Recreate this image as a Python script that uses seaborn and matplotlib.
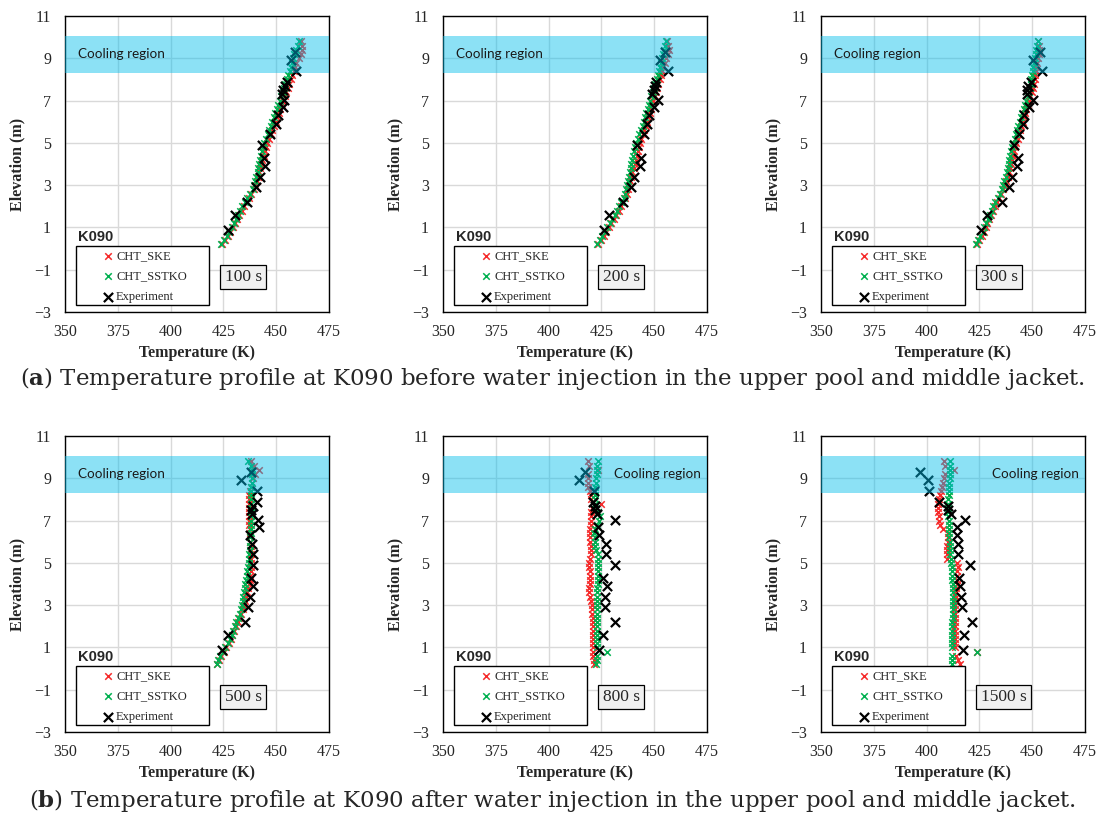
import matplotlib
matplotlib.use("Agg")
import seaborn as sns
from matplotlib import pyplot as plt
from matplotlib.ticker import MultipleLocator
from matplotlib.patches import Rectangle

# Elevations of the simulation nodes (m)
Z_SIM = [0.2, 0.4, 0.6, 0.8, 1.0, 1.2, 1.4, 1.6, 1.8, 2.0,
         2.2, 2.4, 2.6, 2.8, 3.0, 3.2, 3.4, 3.6, 3.8, 4.0,
         4.2, 4.4, 4.6, 4.8, 5.0, 5.2, 5.4, 5.6, 5.8, 6.0,
         6.2, 6.4, 6.6, 6.8, 7.0, 7.2, 7.4, 7.6, 7.8, 8.0,
         8.2, 8.4, 8.6, 8.8, 9.0, 9.2, 9.4, 9.6, 9.8]

# Elevations of the thermocouples (m)
Z_EXP = [0.9, 1.6, 2.2, 2.9, 3.4, 3.9, 4.3, 4.9, 5.4, 5.9,
         6.3, 6.7, 7.05, 7.3, 7.5, 7.7, 7.9, 8.4, 8.9, 9.3]

TIMES = ["100 s", "200 s", "300 s", "500 s", "800 s", "1500 s"]

# CHT_SKE temperatures (K)
SKE_100 = [424.5, 425.8, 427.0, 428.3, 429.5, 430.6, 431.6, 432.6, 433.6, 434.6,
           435.8, 437.0, 438.2, 439.3, 440.0, 440.7, 441.4, 442.0, 442.5, 443.0,
           443.5, 444.0, 444.6, 445.2, 445.8, 446.6, 447.4, 448.2, 449.0, 449.7,
           450.4, 451.1, 451.9, 452.6, 453.3, 454.0, 454.7, 455.4, 456.1, 456.8,
           457.5, 458.2, 458.9, 459.6, 461.0, 461.8, 462.2, 462.0, 461.6]
SKE_200 = [423.6, 424.8, 426.0, 427.2, 428.4, 429.6, 430.8, 432.0, 433.1, 434.1,
           435.1, 436.1, 436.9, 437.6, 438.2, 438.7, 439.2, 439.7, 440.2, 440.7,
           441.2, 441.7, 442.2, 442.7, 443.2, 443.9, 444.6, 445.3, 446.0, 446.6,
           447.2, 447.8, 448.4, 449.0, 449.6, 450.2, 450.8, 451.4, 452.0, 452.6,
           453.2, 453.8, 454.4, 455.0, 455.6, 456.3, 457.0, 456.6, 456.0]
SKE_300 = [423.8, 424.9, 426.0, 427.0, 427.9, 428.8, 429.7, 430.5, 431.4, 432.3,
           433.3, 434.3, 435.3, 436.2, 437.0, 437.7, 438.4, 439.0, 439.5, 440.0,
           440.5, 441.0, 441.5, 442.0, 442.5, 443.1, 443.7, 444.3, 444.9, 445.5,
           446.1, 446.7, 447.3, 447.9, 448.5, 449.1, 449.7, 450.2, 450.7, 451.1,
           451.4, 451.7, 452.0, 452.3, 452.7, 453.1, 453.4, 453.2, 452.8]
SKE_500 = [422.2, 423.0, 424.0, 425.2, 426.4, 427.5, 428.4, 429.2, 430.0, 430.8,
           431.7, 432.6, 433.4, 434.1, 434.7, 435.3, 435.8, 436.3, 436.7, 437.1,
           437.4, 437.7, 437.9, 438.1, 438.2, 438.2, 438.1, 438.0, 437.9, 437.8,
           437.6, 437.5, 437.4, 437.3, 437.2, 437.1, 437.1, 437.1, 437.1, 437.2,
           437.3, 437.6, 438.0, 438.4, 438.8, 440.0, 442.0, 439.5, 438.2]
SKE_800 = [421.3, 421.3, 421.2, 421.2, 421.2, 421.1, 421.1, 421.1, 421.0, 421.0,
           420.9, 420.8, 420.7, 420.6, 420.4, 420.0, 419.5, 419.2, 419.3, 419.6,
           419.8, 419.7, 419.4, 419.2, 419.3, 419.6, 419.9, 420.0, 419.9, 419.8,
           419.6, 419.7, 419.8, 419.9, 420.0, 420.2, 420.3, 420.4, 424.8, 420.3,
           420.0, 419.4, 418.8, 418.6, 418.6, 418.8, 423.3, 419.0, 418.5]
SKE_1500 = [415.8, 414.8, 414.0, 423.7, 413.5, 413.4, 413.4, 413.4, 413.4, 413.4,
            413.4, 413.4, 413.5, 413.5, 413.5, 413.6, 413.7, 413.9, 414.1, 414.3,
            414.4, 414.5, 414.6, 414.8, 414.2, 409.8, 409.6, 409.6, 409.8, 410.2,
            410.3, 410.3, 408.0, 406.5, 406.0, 405.7, 405.5, 405.5, 405.6, 405.8,
            406.3, 406.8, 407.3, 407.8, 408.3, 408.7, 413.0, 408.5, 408.2]

# CHT_SSTKO temperatures (K)
SST_100 = [424.0, 425.2, 426.5, 427.8, 429.0, 430.0, 431.0, 432.0, 433.0, 434.0,
           435.2, 436.4, 437.6, 438.8, 439.4, 440.0, 440.6, 441.2, 441.6, 442.0,
           442.5, 442.9, 443.4, 443.9, 444.4, 445.2, 446.0, 446.8, 447.5, 448.2,
           448.9, 449.6, 450.3, 451.0, 451.6, 452.3, 453.0, 453.7, 454.4, 455.0,
           455.6, 456.3, 457.0, 457.5, 458.0, 458.6, 459.4, 460.2, 461.0]
SST_200 = [423.0, 424.2, 425.4, 426.6, 427.8, 429.0, 430.2, 431.4, 432.5, 433.5,
           434.5, 435.5, 436.2, 436.8, 437.3, 437.7, 438.1, 438.5, 438.8, 439.1,
           439.4, 439.8, 440.3, 440.8, 441.3, 442.1, 442.9, 443.7, 444.5, 445.1,
           445.7, 446.3, 446.9, 447.5, 448.1, 448.7, 449.3, 449.9, 450.5, 451.1,
           451.7, 452.2, 452.7, 453.2, 453.7, 454.2, 454.7, 455.2, 455.7]
SST_300 = [423.4, 424.4, 425.5, 426.5, 427.4, 428.2, 429.1, 429.9, 430.8, 431.6,
           432.6, 433.6, 434.6, 435.5, 436.2, 436.8, 437.5, 438.0, 438.4, 438.8,
           439.2, 439.6, 440.1, 440.6, 441.1, 441.7, 442.3, 442.9, 443.5, 444.1,
           444.7, 445.3, 445.9, 446.5, 447.2, 447.8, 448.4, 448.8, 449.2, 449.6,
           450.0, 450.3, 450.6, 450.9, 451.2, 451.6, 452.0, 452.5, 452.9]
SST_500 = [421.8, 422.6, 423.5, 424.6, 425.8, 427.1, 428.1, 428.9, 429.7, 430.4,
           431.2, 432.0, 432.8, 433.3, 433.8, 434.2, 434.5, 434.8, 435.1, 435.4,
           435.7, 436.0, 436.4, 436.7, 436.9, 437.1, 437.3, 437.5, 437.6, 437.7,
           437.8, 437.9, 438.0, 438.0, 438.1, 438.1, 438.2, 438.2, 438.2, 438.2,
           438.2, 438.3, 438.3, 438.4, 438.5, 438.6, 438.6, 438.0, 436.8]
SST_800 = [422.6, 422.8, 422.9, 427.5, 423.0, 423.0, 423.0, 423.0, 423.0, 422.9,
           422.9, 423.0, 423.0, 423.0, 423.1, 423.1, 423.1, 423.1, 423.1, 423.2,
           423.2, 423.3, 423.3, 423.4, 423.5, 423.6, 423.3, 422.5, 422.0, 422.0,
           421.8, 421.6, 422.2, 423.0, 423.8, 424.5, 423.5, 422.5, 422.0, 422.0,
           422.0, 422.0, 422.1, 422.3, 422.5, 422.8, 423.0, 423.0, 423.2]
SST_1500 = [411.9, 412.0, 412.0, 423.7, 412.0, 412.1, 412.1, 412.1, 412.2, 412.2,
            412.2, 412.3, 412.3, 412.3, 412.3, 412.3, 412.3, 412.3, 412.3, 412.3,
            412.2, 412.1, 412.0, 411.8, 411.6, 411.4, 411.2, 411.1, 411.0, 410.9,
            410.8, 410.7, 410.6, 410.5, 410.4, 410.2, 410.0, 410.0, 410.1, 410.3,
            410.5, 410.6, 410.7, 410.8, 410.9, 411.0, 411.1, 411.2, 411.3]

# Experiment temperatures (K)
EXP_100 = [427.3, 430.6, 436.0, 440.2, 442.3, 444.6, 444.3, 443.2, 447.3, 449.9,
           450.8, 453.3, 453.6, 452.6, 453.1, 454.0, 455.0, 459.3, 457.1, 459.0]
EXP_200 = [426.1, 428.4, 435.3, 438.9, 440.5, 443.3, 443.6, 441.9, 445.2, 446.8,
           447.6, 449.9, 451.6, 449.1, 449.9, 450.4, 451.0, 456.5, 452.7, 455.1]
EXP_300 = [425.6, 428.4, 435.8, 438.9, 440.3, 443.0, 443.4, 441.4, 443.9, 445.5,
           446.3, 448.6, 450.2, 447.4, 447.7, 448.2, 449.3, 454.5, 450.6, 453.7]
EXP_500 = [424.4, 427.1, 435.1, 436.7, 437.8, 439.1, 438.3, 439.1, 439.1, 438.7,
           437.5, 441.9, 441.4, 438.6, 438.3, 439.1, 440.7, 441.0, 433.1, 438.3]
EXP_800 = [424.0, 425.9, 431.6, 426.9, 426.9, 427.6, 425.6, 431.6, 427.2, 427.2,
           424.0, 423.4, 431.4, 422.8, 422.1, 421.8, 421.2, 421.7, 414.3, 417.4]
EXP_1500 = [417.4, 417.7, 421.3, 416.6, 416.3, 415.8, 415.3, 420.5, 415.0, 415.0,
            414.2, 414.2, 418.2, 411.6, 410.3, 410.0, 405.9, 401.3, 400.5, 396.9]

SKE = [SKE_100, SKE_200, SKE_300, SKE_500, SKE_800, SKE_1500]
SST = [SST_100, SST_200, SST_300, SST_500, SST_800, SST_1500]
EXP = [EXP_100, EXP_200, EXP_300, EXP_500, EXP_800, EXP_1500]

COOL_BOTTOM, COOL_TOP = 8.3, 10.05

CAPTIONS = [
    r"($\mathbf{a}$) Temperature profile at K090 before water injection in the upper pool and middle jacket.",
    r"($\mathbf{b}$) Temperature profile at K090 after water injection in the upper pool and middle jacket.",
]

sns.set_style("white")
plt.rcParams["mathtext.fontset"] = "dejavuserif"

SERIF = "Liberation Serif"
fig = plt.figure(figsize=(11.04, 8.19), dpi=100)

lefts = [65, 443, 821]
tops = [16, 436]
W, H = 1104, 819

for i in range(6):
    row, col = divmod(i, 3)
    x0 = lefts[col] / W
    y0 = 1 - (tops[row] + 296) / H
    ax = fig.add_axes([x0, y0, 264 / W, 296 / H])

    sns.scatterplot(x=SKE[i], y=Z_SIM, ax=ax, marker="x", color="#f52a2a",
                    s=22, linewidth=1.1, label="CHT_SKE", zorder=2)
    sns.scatterplot(x=SST[i], y=Z_SIM, ax=ax, marker="x", color="#00b050",
                    s=22, linewidth=1.1, label="CHT_SSTKO", zorder=2.1)
    sns.scatterplot(x=EXP[i], y=Z_EXP, ax=ax, marker="x", color="black",
                    s=44, linewidth=1.6, label="Experiment", zorder=2.2)

    # cooling band sits over the markers, semi-transparent
    ax.axhspan(COOL_BOTTOM, COOL_TOP, color="#00bdeb", alpha=0.45, lw=0, zorder=3)
    if row == 0 or col == 0:
        ax.text(0.05, 9.2, "Cooling region", transform=ax.get_yaxis_transform(),
                ha="left", va="center", family="Lato", fontsize=9.7,
                color="#1a1a1a", zorder=4)
    else:
        ax.text(0.975, 9.2, "Cooling region", transform=ax.get_yaxis_transform(),
                ha="right", va="center", family="Lato", fontsize=9.7,
                color="#1a1a1a", zorder=4)

    ax.set_xlim(350, 475)
    ax.set_ylim(-3, 11)
    ax.set_xticks(range(350, 476, 25))
    ax.set_yticks(range(-3, 12, 2))
    ax.xaxis.set_minor_locator(MultipleLocator(5))
    ax.yaxis.set_minor_locator(MultipleLocator(0.5))
    ax.grid(True, which="major", color="#d9d9d9", lw=1, zorder=0)
    ax.set_axisbelow(True)
    ax.tick_params(which="major", direction="in", length=0, pad=9,
                   labelsize=11.5)
    ax.tick_params(axis="y", which="major", pad=10)
    ax.tick_params(which="minor", direction="in", length=3, width=0.8,
                   color="#555555")
    for lab in ax.get_xticklabels() + ax.get_yticklabels():
        lab.set_family(SERIF)
    for sp in ax.spines.values():
        sp.set_color("black")
        sp.set_linewidth(1.0)

    ax.set_xlabel("Temperature (K)", family=SERIF, fontweight="bold",
                  fontsize=11.5, labelpad=3)
    ax.set_ylabel("Elevation (m)", family=SERIF, fontweight="bold",
                  fontsize=11.5, labelpad=6)

    # legend box
    ax.add_patch(Rectangle((0.042, 0.024), 0.503, 0.199, transform=ax.transAxes,
                           facecolor="white", edgecolor="black", lw=1.0,
                           zorder=4.5))
    ax.legend(loc="upper left", bbox_to_anchor=(0.125, 0.218), frameon=False,
              handletextpad=0.05, handlelength=1.2, labelspacing=0.68,
              borderpad=0.2, borderaxespad=0,
              prop={"family": SERIF, "size": 9})
    ax.text(0.05, 0.254, "K090", transform=ax.transAxes, ha="left", va="center",
            family="Liberation Sans", fontweight="bold", fontsize=10.5, zorder=5)

    ax.text(0.605, 0.118, TIMES[i], transform=ax.transAxes, ha="left",
            va="center", family=SERIF, fontsize=12.5, zorder=5,
            bbox=dict(boxstyle="square,pad=0.25", fc="#f0f0f0", ec="black",
                      lw=0.9))

fig.text(0.5, 1 - 378 / H, CAPTIONS[0], ha="center", va="center",
         family="DejaVu Serif", fontsize=16.5)
fig.text(0.5, 1 - 800 / H, CAPTIONS[1], ha="center", va="center",
         family="DejaVu Serif", fontsize=16.5)

fig.savefig("out.png", dpi=100)
